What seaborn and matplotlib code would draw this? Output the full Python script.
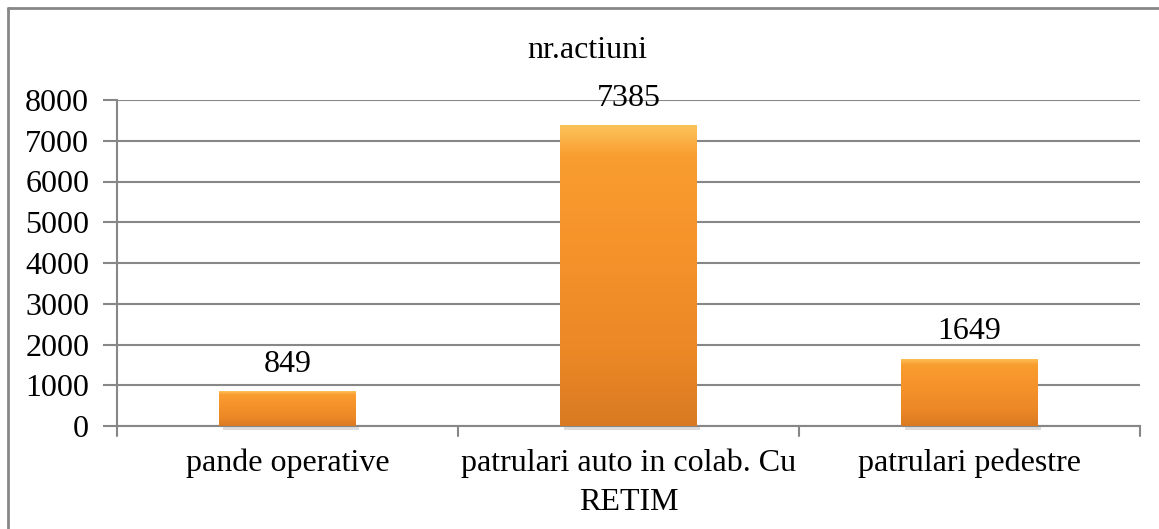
import numpy as np
import pandas as pd
import matplotlib
matplotlib.use("Agg")
import matplotlib.pyplot as plt
import matplotlib.lines as mlines
from matplotlib.colors import LinearSegmentedColormap
import seaborn as sns

categories = ["pande operative", "patrulari auto in colab. Cu\nRETIM", "patrulari pedestre"]
values = [849, 7385, 1649]
title = "nr.actiuni"
yticks = [0, 1000, 2000, 3000, 4000, 5000, 6000, 7000, 8000]

df = pd.DataFrame({"cat": categories, "val": values})

sns.set_style("white")
plt.rcParams["font.family"] = ["Liberation Serif", "DejaVu Serif"]
plt.rcParams["text.color"] = "black"
plt.rcParams["xtick.color"] = "black"
plt.rcParams["ytick.color"] = "black"

fs = 23
grey = "#878787"
fig = plt.figure(figsize=(11.59, 5.29), dpi=100)
ax = fig.add_axes([117 / 1159, 1 - 426 / 529, (1140 - 117) / 1159, (426 - 100) / 529])

sns.barplot(data=df, x="cat", y="val", color="#F7931E", width=0.4, ax=ax,
            edgecolor="none", zorder=3)

# gradient fill clipped to each bar, imitating the bevelled office look
cmap = LinearSegmentedColormap.from_list(
    "orange", [(0, "#D97A22"), (0.25, "#EC8826"), (0.6, "#F6932A"),
               (0.9, "#F99D30"), (1, "#FDC35A")])
grad = np.linspace(0, 1, 256).reshape(-1, 1)
for p in ax.patches:
    x0, y0, w, h = p.get_x(), p.get_y(), p.get_width(), p.get_height()
    im = ax.imshow(grad, cmap=cmap, aspect="auto", origin="lower",
                   extent=[x0, x0 + w, y0, y0 + h], zorder=4)
    im.set_clip_path(p)
    # soft shadow beneath the bar
    ax.add_patch(plt.Rectangle((x0 + 0.01, -110), w, 110, color="#BDBDBD",
                               alpha=0.5, zorder=2, clip_on=False, lw=0))
    ax.text(x0 + w / 2, y0 + h + 480, f"{int(h)}", ha="center", va="baseline",
            fontsize=fs, zorder=5)

ax.set_xlim(-0.5, 2.5)
ax.set_ylim(0, 8000)
ax.set_yticks(yticks)
ax.set_yticklabels([str(t) for t in yticks], fontsize=fs)
ax.tick_params(axis="y", length=10, width=1.5, color=grey, direction="out", pad=10, left=True)
ax.set_xticks(range(len(categories)))
ax.set_xticklabels(categories, fontsize=fs, linespacing=1.45)
ax.tick_params(axis="x", length=0, pad=16)
ax.set_xlabel("")
ax.set_ylabel("")

ax.yaxis.grid(True, color=grey, lw=1.5, zorder=1)
ax.set_axisbelow(True)
for s in ["top", "right"]:
    ax.spines[s].set_visible(False)
for s in ["left", "bottom"]:
    ax.spines[s].set_color(grey)
    ax.spines[s].set_linewidth(1.5)

# category boundary ticks on the x axis
for xb in [-0.5, 0.5, 1.5, 2.5]:
    ax.add_line(mlines.Line2D([xb, xb], [0, -250], color=grey, lw=1.5, clip_on=False))

fig.text(587 / 1159, 1 - 58 / 529, title, ha="center", va="baseline", fontsize=fs)

# chart area frame (left and top edges visible)
fig.add_artist(mlines.Line2D([8 / 1159, 8 / 1159], [0, 1 - 8 / 529], color=grey, lw=2))
fig.add_artist(mlines.Line2D([8 / 1159, 1], [1 - 8 / 529, 1 - 8 / 529], color=grey, lw=2))

fig.savefig("out.png", dpi=100)
